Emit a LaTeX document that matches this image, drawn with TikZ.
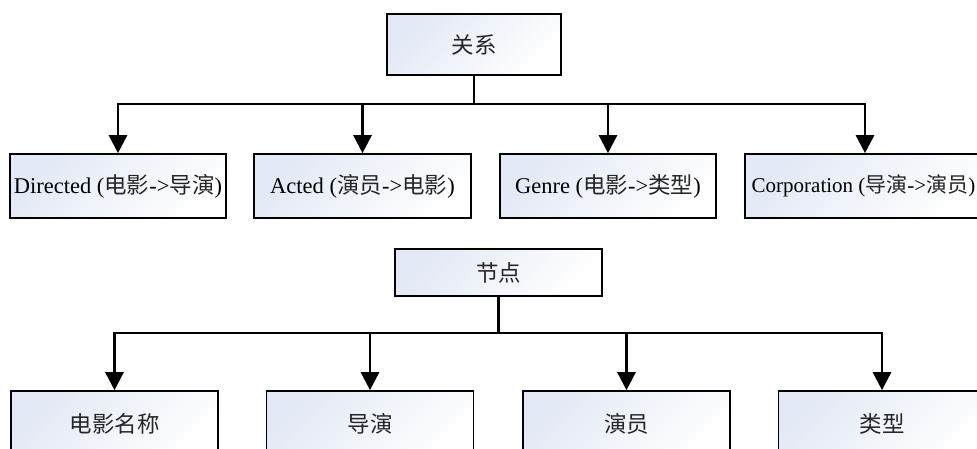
\documentclass[tikz,border=0pt]{standalone}
\usepackage{fontspec}
\setmainfont{Liberation Serif}
\newfontfamily\cjk{Noto Sans CJK SC}
\usetikzlibrary{arrows.meta}
\definecolor{boxtint}{HTML}{E2E8F5}
\newcommand{\zh}[1]{{\cjk\color{black!85}#1}}
\begin{document}
\begin{tikzpicture}[x=1pt,y=-1pt,
  box/.style={draw=black, line width=1.6pt, rectangle, inner sep=0pt,
    top color=boxtint, bottom color=white, shading angle=45,
    font=\fontsize{22.5pt}{26pt}\selectfont, text=black},
  conn/.style={line width=2.6pt, draw=black},
  arr/.style={conn, -{Triangle[width=18pt,length=18pt]}}]
\useasboundingbox (0,0) rectangle (977,449);
\clip (0,0) rectangle (977,449);
% top tree
\node[box, minimum width=174pt, minimum height=61pt] (rel) at (474,44.5) {\zh{关系}};
\node[box, minimum width=216pt, minimum height=64pt] (d1) at (118,186) {Directed (\zh{电影}->\zh{导演})};
\node[box, minimum width=217pt, minimum height=64pt] (d2) at (362.5,186) {Acted (\zh{演员}->\zh{电影})};
\node[box, minimum width=216pt, minimum height=64pt] (d3) at (608,186) {Genre (\zh{电影}->\zh{类型})};
\node[box, minimum width=240pt, minimum height=64pt, font=\fontsize{21pt}{24pt}\selectfont] (d4) at (865,186) {\hspace*{-3pt}Corporation (\zh{导演}->\zh{演员})};
\coordinate (j1) at (474,104);
\draw[conn] (rel.south) -- (j1);
\draw[arr] (j1) -| (d1.north);
\draw[arr] (j1) -| (d2.north);
\draw[arr] (j1) -| (d3.north);
\draw[arr] (j1) -| (d4.north);
% bottom tree
\node[box, minimum width=207pt, minimum height=47pt] (nd) at (498.5,272.5) {\zh{节点}};
\node[box, minimum width=207pt, minimum height=66pt] (e1) at (114.5,424) {\zh{电影名称}};
\node[box, minimum width=207pt, minimum height=66pt] (e2) at (370,424) {\zh{导演}};
\node[box, minimum width=207pt, minimum height=66pt] (e3) at (626.5,424) {\zh{演员}};
\node[box, minimum width=207pt, minimum height=66pt] (e4) at (882,424) {\zh{类型}};
\coordinate (j2) at (498.5,333);
\draw[conn] (nd.south) -- (j2);
\draw[arr] (j2) -| (e1.north);
\draw[arr] (j2) -| (e2.north);
\draw[arr] (j2) -| (e3.north);
\draw[arr] (j2) -| (e4.north);
\end{tikzpicture}
\end{document}
